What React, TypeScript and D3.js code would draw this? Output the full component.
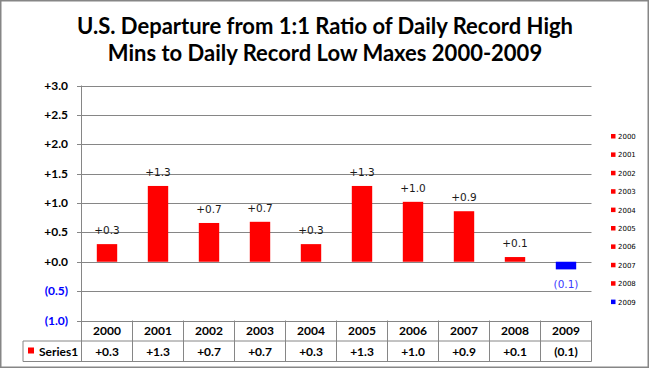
import * as React from 'react';
import * as d3 from 'd3';

const years = ['2000', '2001', '2002', '2003', '2004', '2005', '2006', '2007', '2008', '2009'];
const departures = [0.3, 1.29, 0.66, 0.68, 0.3, 1.29, 1.02, 0.86, 0.08, -0.13];
const yTicks = [3.0, 2.5, 2.0, 1.5, 1.0, 0.5, 0.0, -0.5, -1.0];
const titleLines = [
  'U.S. Departure from 1:1 Ratio of Daily Record High',
  'Mins to Daily Record Low Maxes 2000-2009',
];
const seriesName = 'Series1';

const fmt = (v: number) => {
  const r = Math.round(Math.abs(v) * 10) / 10;
  return v < -0.0001 ? `(${r.toFixed(1)})` : `+${r.toFixed(1)}`;
};

const App: React.FC = () => {
  const width = 650;
  const height = 369;
  const plot = { left: 81.5, right: 591.5, top: 85.5, bottom: 320.5 };

  const x = d3
    .scaleBand()
    .domain(years)
    .range([plot.left, plot.right])
    .paddingInner(0.6)
    .paddingOuter(0.3);

  const col = d3.scaleBand().domain(years).range([plot.left, plot.right]);

  const y = d3.scaleLinear().domain([-1, 3]).range([plot.bottom, plot.top]);

  const grid = '#868686';
  const labelFont = 'Lato, "Open Sans", sans-serif';
  const small = '"DejaVu Sans", Verdana, sans-serif';
  const row1 = 320.5;
  const row2 = 341;
  const row3 = 361.5;

  return (
    <svg width={width} height={height} style={{ position: 'absolute', left: 0, top: 0 }}>
      <rect x={0} y={0} width={width} height={height} fill="#fff" />
      <rect x={0.75} y={0.75} width={647.5} height={366.5} fill="none" stroke={grid} strokeWidth={1.5} />

      {titleLines.map((t, i) => (
        <text
          key={t}
          x={325}
          y={33.5 + i * 27}
          textAnchor="middle"
          fontFamily={labelFont}
          fontWeight="bold"
          fontSize={22}
          fill="#000"
        >
          {t}
        </text>
      ))}

      {/* gridlines + y labels */}
      {yTicks.map((t) => (
        <g key={t}>
          <line x1={77} x2={plot.right} y1={Math.round(y(t)) + 0.5} y2={Math.round(y(t)) + 0.5} stroke={grid} />
          <text
            x={68}
            y={y(t) + 4}
            textAnchor="end"
            fontFamily={labelFont}
            fontWeight="bold"
            fontSize={12}
            fill={t < 0 ? '#0000ff' : '#000'}
          >
            {fmt(t)}
          </text>
        </g>
      ))}
      <line x1={plot.left} x2={plot.left} y1={plot.top} y2={row3} stroke={grid} />

      {/* bars */}
      {departures.map((v, i) => (
        <rect
          key={years[i]}
          x={x(years[i])}
          width={x.bandwidth()}
          y={y(Math.max(0, v))}
          height={Math.abs(y(v) - y(0))}
          fill={v < 0 ? '#0000ff' : '#ff0000'}
        />
      ))}

      {/* data labels */}
      {departures.map((v, i) => (
        <text
          key={`l${years[i]}`}
          x={(x(years[i]) as number) + x.bandwidth() / 2}
          y={v < 0 ? y(v) + 19 : y(v) - 10}
          textAnchor="middle"
          fontFamily={small}
          fontSize={10.5}
          fill={v < 0 ? '#3a3aff' : '#1a1a1a'}
        >
          {fmt(v)}
        </text>
      ))}

      {/* data table */}
      <line x1={23} x2={plot.right} y1={row2} y2={row2} stroke={grid} />
      <line x1={23} x2={plot.right} y1={row3} y2={row3} stroke={grid} />
      <line x1={23} x2={23} y1={row2} y2={row3} stroke={grid} />
      {years.map((yr, i) => {
        const x0 = col(yr) as number;
        const cx = x0 + col.bandwidth() / 2;
        return (
          <g key={`t${yr}`}>
            <line x1={x0 + col.bandwidth()} x2={x0 + col.bandwidth()} y1={row1} y2={row3} stroke={grid} />
            <text x={cx} y={335} textAnchor="middle" fontFamily={labelFont} fontWeight="bold" fontSize={12} fill="#000">
              {yr}
            </text>
            <text x={cx} y={356} textAnchor="middle" fontFamily={labelFont} fontWeight="bold" fontSize={12} fill="#000">
              {fmt(departures[i])}
            </text>
          </g>
        );
      })}
      <rect x={28} y={347.5} width={6} height={6} fill="#ff0000" />
      <text x={39} y={356} fontFamily={labelFont} fontWeight="bold" fontSize={12} fill="#000">
        {seriesName}
      </text>

      {/* right legend */}
      {years.map((yr, i) => (
        <g key={`g${yr}`}>
          <rect x={611} y={134 + i * 18.4} width={4.5} height={4.5} fill={departures[i] < 0 ? '#0000ff' : '#ff0000'} />
          <text x={618} y={139 + i * 18.4} fontFamily={small} fontSize={7} fill="#000">
            {yr}
          </text>
        </g>
      ))}
    </svg>
  );
};

export default App;
